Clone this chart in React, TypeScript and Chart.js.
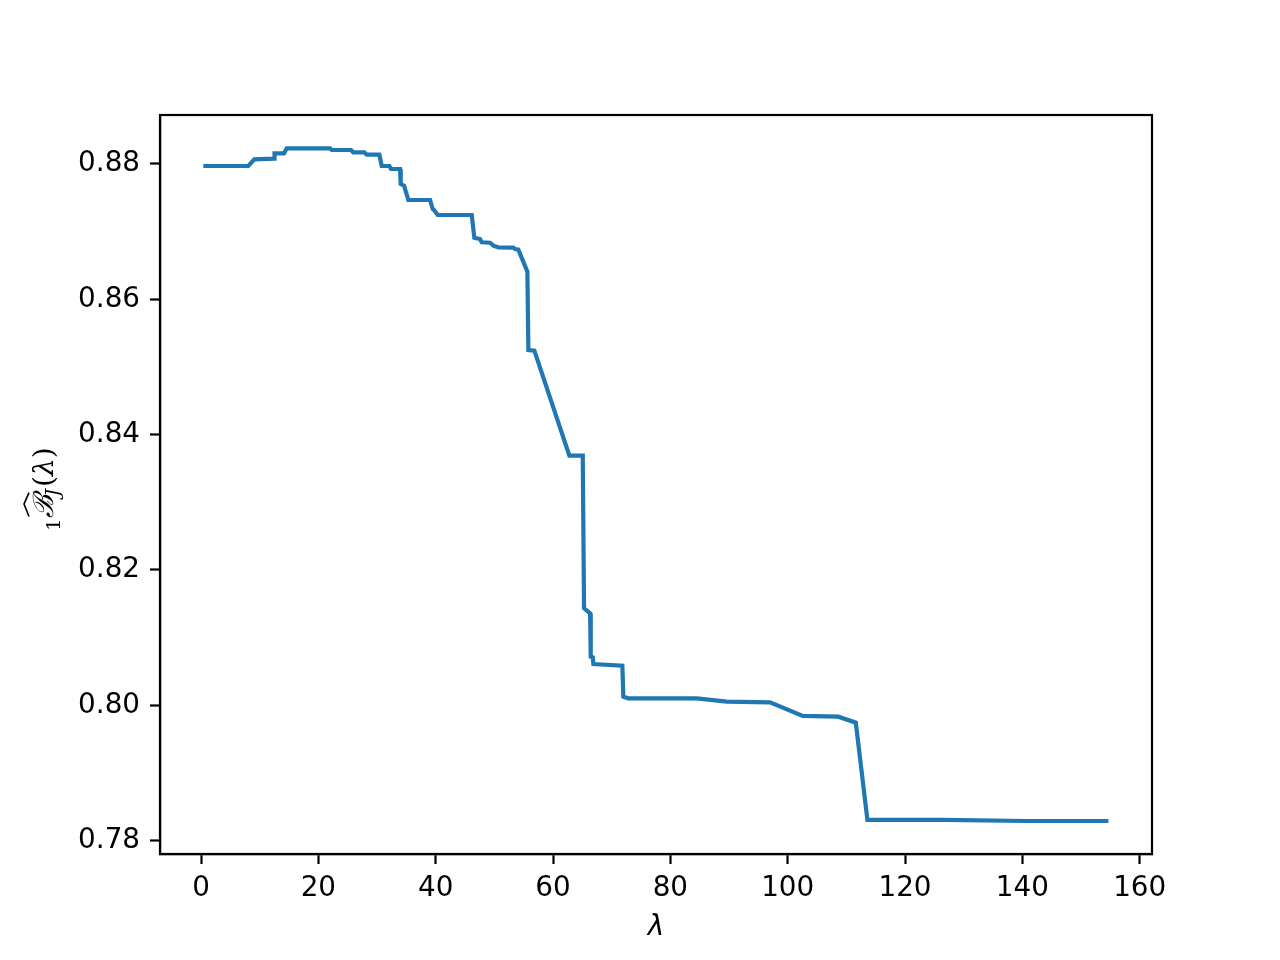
import React, { useEffect, useRef } from "react";
import { Chart, registerables } from "chart.js";

Chart.register(...registerables);

const lambdaValues: number[] = [
  0.39, 8.06, 9.09, 12.5, 12.53, 14.15, 14.61, 22.0, 22.28, 25.57, 25.96, 27.84,
  28.25, 30.4, 30.8, 32.1, 32.39, 33.92, 34.04, 34.61, 35.34, 39.04, 39.5, 39.72,
  40.35, 46.15, 46.59, 47.56, 47.85, 49.27, 49.83, 50.68, 53.24, 53.53, 54.09,
  55.63, 55.8, 56.82, 62.79, 65.07, 65.29, 66.32, 66.43, 66.78, 66.88, 71.82,
  71.99, 72.84, 84.5, 89.62, 96.99, 102.57, 108.64, 111.61, 113.59, 126.54,
  140.76, 154.67,
];

const bValues: number[] = [
  0.8797, 0.8797, 0.88069, 0.88078, 0.88158, 0.88158, 0.88232, 0.88232, 0.88207,
  0.88207, 0.88173, 0.88173, 0.88137, 0.88137, 0.8797, 0.8797, 0.87926, 0.87926,
  0.87704, 0.87679, 0.87468, 0.87468, 0.87335, 0.8732, 0.87246, 0.87246, 0.86911,
  0.86892, 0.86843, 0.86837, 0.86793, 0.86769, 0.86763, 0.86744, 0.86734, 0.86408,
  0.85251, 0.85241, 0.83689, 0.83689, 0.81434, 0.8136, 0.80719, 0.8071, 0.80611,
  0.80586, 0.80128, 0.80104, 0.80104, 0.80054, 0.80045, 0.79843, 0.79832, 0.79744,
  0.78306, 0.78306, 0.78291, 0.78291,
];

const xTickStep = 20;
const yTickStep = 0.02;

const framePlugin = {
  id: "frameAndTitles",
  afterDraw(chart: any) {
    const { ctx, chartArea } = chart;
    const { left, top, right, bottom } = chartArea;
    ctx.save();
    ctx.strokeStyle = "#000";
    ctx.lineWidth = 2.2;
    ctx.strokeRect(left, top, right - left, bottom - top);

    // x title
    ctx.fillStyle = "#000";
    ctx.font = "italic 28px 'DejaVu Sans'";
    ctx.textAlign = "center";
    ctx.textBaseline = "alphabetic";
    ctx.fillText("λ", (left + right) / 2, 935);

    // y title: 1 B-hat _J (λ)
    ctx.translate(45, 489);
    ctx.rotate(-Math.PI / 2);
    ctx.textAlign = "left";
    const mainFont = "italic 28px 'DejaVu Serif'";
    const subFont = "19px 'DejaVu Serif'";
    const subItFont = "italic 19px 'DejaVu Serif'";
    const parenFont = "28px 'DejaVu Serif'";
    ctx.font = subFont;
    const w1 = ctx.measureText("1").width;
    ctx.font = mainFont;
    const wB = ctx.measureText("ℬ").width;
    ctx.font = subItFont;
    const wJ = ctx.measureText("J").width;
    ctx.font = parenFont;
    const wP1 = ctx.measureText("(").width;
    ctx.font = mainFont;
    const wL = ctx.measureText("λ").width;
    ctx.font = parenFont;
    const wP2 = ctx.measureText(")").width;
    const total = w1 + 1 + wB + wJ + wP1 + wL + wP2;
    let x = -total / 2;
    const base = 8;
    ctx.font = subFont;
    ctx.fillText("1", x, base + 7);
    x += w1 + 1;
    ctx.font = mainFont;
    ctx.fillText("ℬ", x, base);
    // hat
    ctx.lineWidth = 1.6;
    ctx.beginPath();
    ctx.moveTo(x + 1, base - 24);
    ctx.lineTo(x + wB / 2 + 2, base - 29);
    ctx.lineTo(x + wB + 2, base - 24);
    ctx.stroke();
    x += wB;
    ctx.font = subItFont;
    ctx.fillText("J", x - 2, base + 6);
    x += wJ;
    ctx.font = parenFont;
    ctx.fillText("(", x, base);
    x += wP1;
    ctx.font = mainFont;
    ctx.fillText("λ", x, base);
    x += wL;
    ctx.font = parenFont;
    ctx.fillText(")", x, base);
    ctx.restore();
  },
};

export default function App() {
  const ref = useRef<HTMLCanvasElement | null>(null);

  useEffect(() => {
    if (!ref.current) return;
    const data = lambdaValues.map((x, i) => ({ x, y: bValues[i] }));
    const tickFont = { family: "'DejaVu Sans'", size: 27.8 };
    const chart = new Chart(ref.current, {
      type: "line",
      data: {
        datasets: [
          {
            data,
            borderColor: "#1f77b4",
            borderWidth: 4.2,
            pointRadius: 0,
            fill: false,
            tension: 0,
          },
        ],
      },
      options: {
        animation: false,
        responsive: false,
        events: [],
        layout: { padding: { left: 0, top: 115, right: 128, bottom: 0 } },
        plugins: { legend: { display: false }, tooltip: { enabled: false } },
        scales: {
          x: {
            type: "linear",
            min: -6.99,
            max: 162.1,
            afterFit(scale: any) {
              scale.height = 106;
            },
            ticks: {
              stepSize: xTickStep,
              includeBounds: false,
              color: "#000",
              font: tickFont,
              padding: 8,
              maxRotation: 0,
              callback: (v: any) => String(v),
            },
            grid: {
              drawOnChartArea: false,
              drawTicks: true,
              tickLength: 10,
              tickWidth: 2.2,
              tickColor: "#000",
            },
            border: { display: true, color: "#000", width: 2.2 },
          },
          y: {
            type: "linear",
            min: 0.77803,
            max: 0.88724,
            afterFit(scale: any) {
              scale.width = 160;
            },
            ticks: {
              stepSize: yTickStep,
              includeBounds: false,
              color: "#000",
              font: tickFont,
              padding: 10,
              callback: (v: any) => Number(v).toFixed(2),
            },
            grid: {
              drawOnChartArea: false,
              drawTicks: true,
              tickLength: 10,
              tickWidth: 2.2,
              tickColor: "#000",
            },
            border: { display: true, color: "#000", width: 2.2 },
          },
        },
      },
      plugins: [framePlugin],
    } as any);
    return () => chart.destroy();
  }, []);

  return (
    <div style={{ position: "fixed", left: 0, top: 0, width: 1280, height: 960, background: "#fff" }}>
      <canvas ref={ref} width={1280} height={960} style={{ display: "block" }} />
    </div>
  );
}
